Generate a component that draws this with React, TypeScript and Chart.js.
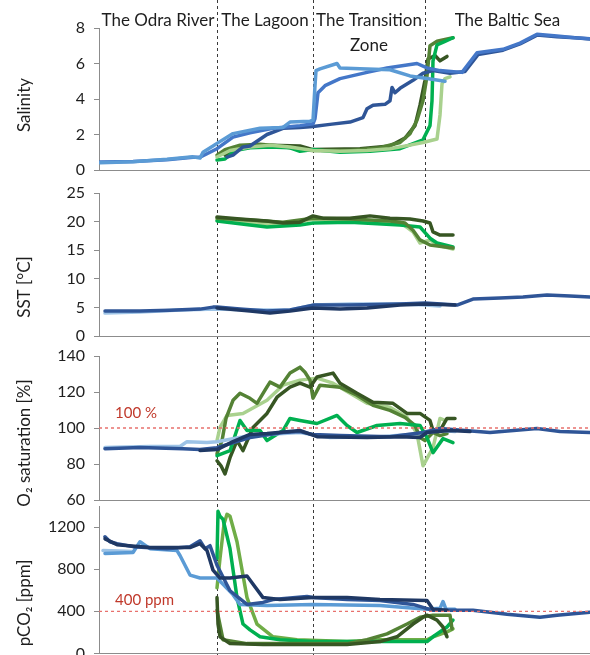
import React, { useEffect, useRef } from "react";
import { Chart, registerables } from "chart.js";

Chart.register(...registerables);

type Pt = [number, number];

const FONT = "Lato, 'Open Sans', sans-serif";
const X_MAX = 491;
const ZONE_BOUNDS = [118, 214, 326];
const ZONE_NAMES: string[][] = [["The Odra River"], ["The Lagoon"], ["The Transition", "Zone"], ["The Baltic Sea"]];

// ---------- tick labels ----------
const salTicks = [0, 2, 4, 6, 8];
const sstTicks = [0, 5, 10, 15, 20, 25];
const o2Ticks = [60, 80, 100, 120, 140];
const co2Ticks = [0, 400, 800, 1200];
const co2Max = 1400;

const o2Ref = 100;
const co2Ref = 400;

// ---------- Salinity ----------
const salLightBlue: Pt[] = [[1,0.41],[34,0.46],[68,0.6],[94,0.74],[101,0.67],[104,1.0],[114,1.35],[118,1.5],[134,2.05],[161,2.35],[184,2.4],[191,2.7],[211,2.75],[214,2.8],[216,4.75],[217,5.6],[221,5.7],[238,6.0],[241,5.75],[261,5.7],[291,5.65],[311,5.3],[328,5.15],[346,5.0]];
const salMedBlue: Pt[] = [[1,0.45],[34,0.48],[68,0.58],[94,0.72],[101,0.72],[118,1.2],[134,1.85],[151,2.1],[174,2.35],[201,2.5],[214,2.6],[216,2.9],[219,4.35],[226,4.75],[241,5.15],[268,5.5],[288,5.75],[318,6.0],[328,5.75],[341,5.6],[363,5.5],[378,6.6],[404,6.8],[421,7.15],[438,7.65],[458,7.55],[476,7.45],[491,7.4]];
const salDarkBlue: Pt[] = [[128,0.73],[134,0.84],[144,1.3],[151,1.35],[168,2.0],[184,2.35],[201,2.4],[214,2.45],[231,2.57],[251,2.7],[264,2.95],[268,3.45],[274,3.65],[286,3.7],[291,3.9],[293,4.65],[296,4.35],[301,4.6],[314,5.05],[324,5.45],[334,5.6],[351,5.45],[366,5.55],[379,6.5],[404,6.75],[421,7.1],[438,7.6],[458,7.5],[476,7.45],[491,7.38]];
const salLightGreen: Pt[] = [[118,0.73],[131,1.1],[151,1.3],[171,1.4],[191,1.3],[214,1.1],[241,1.05],[268,1.1],[291,1.2],[311,1.4],[324,1.55],[338,1.75],[341,3.1],[343,4.85],[346,5.15],[351,5.25]];
const salBrightGreen: Pt[] = [[118,0.56],[126,0.62],[136,1.1],[151,1.25],[171,1.3],[191,1.25],[201,1.05],[214,1.15],[241,1.0],[271,1.05],[301,1.2],[324,1.7],[331,2.5],[333,3.9],[334,6.15],[338,7.05],[346,7.25],[354,7.45]];
const salDarkGreen: Pt[] = [[118,0.84],[126,1.15],[141,1.4],[161,1.45],[181,1.35],[201,1.15],[214,1.1],[251,1.1],[281,1.25],[301,1.55],[311,2.05],[318,2.8],[324,3.9],[328,5.3],[331,7.0],[338,7.25],[354,7.45]];
const salOliveGreen: Pt[] = [[126,0.84],[141,1.25],[171,1.4],[201,1.35],[214,1.15],[261,1.2],[291,1.35],[306,1.8],[316,2.5],[321,3.65],[326,5.05],[329,6.25],[336,6.45],[341,6.15],[348,6.4]];

// ---------- SST ----------
const sstPaleBlue: Pt[] = [[6,4.0],[41,4.2],[81,4.55],[118,4.7],[151,4.55],[191,4.55],[214,5.4],[251,5.6],[301,5.6],[326,5.4],[341,5.25]];
const sstMedBlue: Pt[] = [[6,4.35],[41,4.35],[71,4.5],[101,4.7],[114,5.05],[118,5.05],[141,4.7],[168,4.35],[191,4.55],[214,5.4],[251,5.4],[301,5.6],[326,5.75],[358,5.4],[374,6.45],[401,6.65],[424,6.8],[448,7.15],[471,7.0],[491,6.8]];
const sstNavy: Pt[] = [[118,4.9],[151,4.35],[171,4.0],[191,4.35],[214,4.9],[241,4.7],[268,4.9],[301,5.4],[326,5.6],[356,5.4]];
const sstDarkGreen: Pt[] = [[118,20.8],[141,20.45],[168,20.1],[184,19.75],[201,19.9],[214,21.0],[224,20.6],[251,20.6],[271,21.0],[291,20.6],[311,20.45],[324,20.1],[331,19.75],[334,18.2],[341,17.65],[354,17.65]];
const sstOliveGreen: Pt[] = [[118,20.6],[151,20.3],[184,19.9],[214,20.6],[251,20.45],[291,20.1],[306,19.75],[314,18.5],[321,16.8],[331,15.9],[354,15.4]];
const sstLightGreen: Pt[] = [[118,20.3],[151,19.75],[184,19.4],[214,20.45],[251,20.3],[301,19.9],[314,18.2],[321,16.25],[331,16.8],[341,15.75],[354,15.2]];
const sstBrightGreen: Pt[] = [[118,20.1],[151,19.4],[168,19.05],[201,19.4],[214,19.75],[251,19.9],[301,19.4],[321,19.05],[331,17.1],[338,16.25],[354,15.55]];

// ---------- O2 saturation ----------
const o2PaleBlue: Pt[] = [[6,89.1],[51,89.7],[81,89.7],[88,92.4],[108,91.9],[118,92.4],[151,95.8],[201,97.5],[231,94.7],[281,95.2],[324,96.9],[341,98.6],[356,98.0]];
const o2MedBlue: Pt[] = [[6,88.5],[41,89.1],[84,88.5],[101,88.0],[118,89.1],[151,94.7],[184,97.5],[201,98.0],[214,96.4],[241,95.8],[291,95.2],[324,97.5],[341,99.7],[391,97.5],[438,99.7],[461,98.0],[491,97.5]];
const o2Navy: Pt[] = [[101,87.5],[118,88.0],[134,92.4],[151,96.4],[168,96.9],[201,98.6],[218,95.2],[268,94.7],[301,95.2],[321,94.7],[328,97.5],[351,98.6],[371,98.0]];
const o2OliveGreen: Pt[] = [[118,85.7],[123,93],[127,105.3],[134,115.4],[141,119.3],[151,116.5],[158,113.7],[166,121],[171,125.5],[181,122.7],[191,130.5],[201,133.8],[206,131],[211,126.6],[214,116.5],[221,123.8],[241,122.7],[258,118.2],[274,112.6],[291,109.8],[306,105.9],[316,101.4],[321,94.7],[326,93],[334,97.5],[341,95.8],[348,96.9]];
const o2DarkGreen: Pt[] = [[118,81.8],[122,79],[126,74.5],[131,83.5],[138,93],[144,87.4],[154,100.3],[168,108.1],[178,117.1],[191,122.7],[201,124.9],[211,122.7],[218,128.3],[234,130.5],[241,124.9],[258,119.3],[274,114.3],[294,113.7],[308,108.1],[321,108.1],[331,104.2],[334,98.6],[341,98.6],[348,105.3],[356,105.3]];
const o2LightGreen: Pt[] = [[118,93],[121,100.3],[128,107],[144,108.1],[168,115.4],[184,123.8],[201,126.6],[218,127.7],[234,124.9],[251,119.3],[268,113.7],[291,111.5],[308,105.9],[318,96.9],[324,79],[334,89.1],[341,105.3],[346,104.2]];
const o2BrightGreen: Pt[] = [[118,84.6],[131,87.4],[141,104.2],[148,98.6],[161,98.6],[168,93],[184,98.6],[191,105.3],[201,104.2],[218,102.5],[238,107],[248,101.4],[258,97.5],[278,101.4],[301,102.5],[321,101.4],[328,94.7],[334,86.3],[344,94.1],[354,91.9]];

// ---------- pCO2 ----------
const co2BlueA: Pt[] = [[6,1107],[11,1060],[18,1042],[34,1014],[68,995],[91,1014],[101,1070],[106,995],[111,1023],[118,837],[131,595],[148,465],[164,484],[174,512],[208,540],[214,530],[248,512],[281,502],[314,465],[334,409],[374,409],[408,372],[441,344],[458,363],[491,391]];
const co2Navy: Pt[] = [[6,1088],[18,1033],[51,1005],[91,1005],[101,1042],[108,977],[114,791],[121,716],[131,716],[148,735],[164,530],[181,512],[214,530],[248,530],[281,512],[328,502],[334,419],[348,409]];
const co2LightBlue: Pt[] = [[6,949],[34,958],[41,1060],[51,995],[78,977],[81,930],[91,744],[101,716],[118,716],[134,558],[141,465],[168,456],[214,465],[281,456],[328,419],[341,428],[344,493],[347,419],[356,419]];
const co2PaleBlue: Pt[] = [[4,977],[34,967]];
const co2BrightGreen: Pt[] = [[118,902],[119,1349],[121,1302],[124,1274],[131,995],[138,530],[144,279],[151,223],[161,158],[181,130],[214,112],[281,112],[328,112],[334,158],[348,251],[354,316]];
const co2YellowGreen: Pt[] = [[118,623],[121,902],[125,1228],[128,1321],[131,1302],[138,1060],[148,530],[158,279],[174,158],[198,130],[248,112],[281,130],[328,130],[334,158],[348,205],[354,233]];
const co2DarkGreen: Pt[] = [[118,530],[119,279],[121,158],[131,93],[164,84],[248,84],[281,112],[298,158],[314,279],[324,344],[328,363],[338,316],[344,251],[348,158]];
const co2OliveGreen: Pt[] = [[118,409],[124,130],[148,93],[248,93],[268,130],[288,186],[308,279],[321,344],[334,363],[351,363],[353,233]];

// ---------- colours ----------
const C = {
  lightBlue: "#5b9bd5",
  medBlue: "#4477c8",
  darkBlue: "#2f5597",
  navy: "#1f3864",
  paleBlue: "#9dc3e6",
  lightGreen: "#a9d18e",
  brightGreen: "#00b050",
  olive: "#548235",
  dark: "#375623",
  yellowGreen: "#70ad47",
  ref: "#e8716d",
  refText: "#c0392b",
};

const W = 590;
const H = 672;

type Series = { pts: Pt[]; color: string };
type Panel = {
  title: string;
  ticks: number[];
  min: number;
  max: number;
  top: number;
  bottom: number;
  titleY: number;
  ref?: { value: number; label: string; dy: number };
  series: Series[];
  first?: boolean;
};

const panels: Panel[] = [
  {
    title: "Salinity", ticks: salTicks, min: 0, max: 8, top: 28, bottom: 170, titleY: 105, first: true,
    series: [
      { pts: salLightBlue, color: C.lightBlue },
      { pts: salMedBlue, color: C.medBlue },
      { pts: salDarkBlue, color: C.darkBlue },
      { pts: salLightGreen, color: C.lightGreen },
      { pts: salBrightGreen, color: C.brightGreen },
      { pts: salDarkGreen, color: C.olive },
      { pts: salOliveGreen, color: C.dark },
    ],
  },
  {
    title: "SST [°C]", ticks: sstTicks, min: 0, max: 25, top: 193, bottom: 336, titleY: 287,
    series: [
      { pts: sstNavy, color: C.navy },
      { pts: sstMedBlue, color: C.darkBlue },
      { pts: sstPaleBlue, color: C.paleBlue },
      { pts: sstDarkGreen, color: C.dark },
      { pts: sstOliveGreen, color: C.olive },
      { pts: sstBrightGreen, color: C.brightGreen },
      { pts: sstLightGreen, color: C.lightGreen },
    ],
  },
  {
    title: "O₂ saturation [%]", ticks: o2Ticks, min: 60, max: 140, top: 356, bottom: 500, titleY: 443,
    ref: { value: o2Ref, label: "100 %", dy: -15 },
    series: [
      { pts: o2Navy, color: C.navy },
      { pts: o2MedBlue, color: C.darkBlue },
      { pts: o2PaleBlue, color: C.paleBlue },
      { pts: o2BrightGreen, color: C.brightGreen },
      { pts: o2DarkGreen, color: C.dark },
      { pts: o2OliveGreen, color: C.olive },
      { pts: o2LightGreen, color: C.lightGreen },
    ],
  },
  {
    title: "pCO₂ [ppm]", ticks: co2Ticks, min: 0, max: co2Max, top: 506, bottom: 657, titleY: 603,
    ref: { value: co2Ref, label: "400 ppm", dy: -11 },
    series: [
      { pts: co2Navy, color: C.navy },
      { pts: co2BlueA, color: C.darkBlue },
      { pts: co2LightBlue, color: C.lightBlue },
      { pts: co2PaleBlue, color: C.paleBlue },
      { pts: co2DarkGreen, color: C.dark },
      { pts: co2OliveGreen, color: C.olive },
      { pts: co2BrightGreen, color: C.brightGreen },
      { pts: co2YellowGreen, color: C.yellowGreen },
    ],
  },
];

function makeChart(canvas: HTMLCanvasElement, p: Panel): Chart {
  const datasets: any[] = [];
  if (p.ref) {
    datasets.push({
      data: [{ x: 0, y: p.ref.value }, { x: X_MAX, y: p.ref.value }],
      borderColor: C.ref, borderWidth: 1.3, borderDash: [3, 3], pointRadius: 0,
    });
  }
  for (const s of p.series) {
    datasets.push({
      data: s.pts.map(([x, y]) => ({ x, y })),
      borderColor: s.color, borderWidth: 3.5, pointRadius: 0, tension: 0,
      borderJoinStyle: "round", borderCapStyle: "round",
    });
  }

  const decor = {
    id: "decor" + p.title,
    beforeDatasetsDraw(chart: any) {
      if (!p.first) return;
      const ctx = chart.ctx;
      const xs = chart.scales.x;
      ctx.save();
      ctx.strokeStyle = "#3a3a3a";
      ctx.lineWidth = 1;
      ctx.setLineDash([3, 3]);
      for (const b of ZONE_BOUNDS) {
        const px = Math.round(xs.getPixelForValue(b)) + 0.5;
        ctx.beginPath();
        ctx.moveTo(px, 0);
        ctx.lineTo(px, H);
        ctx.stroke();
      }
      ctx.restore();
    },
    afterDraw(chart: any) {
      const ctx = chart.ctx;
      const xs = chart.scales.x;
      const ys = chart.scales.y;
      ctx.save();
      ctx.fillStyle = "#1e1e1e";
      ctx.font = `17px ${FONT}`;
      ctx.textAlign = "center";
      ctx.textBaseline = "middle";
      ctx.translate(25, p.titleY);
      ctx.rotate(-Math.PI / 2);
      ctx.fillText(p.title, 0, 0);
      ctx.restore();
      if (p.ref) {
        ctx.save();
        ctx.fillStyle = C.refText;
        ctx.font = `15px ${FONT}`;
        ctx.textAlign = "left";
        ctx.textBaseline = "middle";
        ctx.fillText(p.ref.label, 115, ys.getPixelForValue(p.ref.value) + p.ref.dy);
        ctx.restore();
      }
      if (p.first) {
        const edges = [0, ...ZONE_BOUNDS, X_MAX];
        ctx.save();
        ctx.fillStyle = "#1e1e1e";
        ctx.font = `17px ${FONT}`;
        ctx.textAlign = "center";
        ctx.textBaseline = "middle";
        ZONE_NAMES.forEach((lines, i) => {
          const cx = (xs.getPixelForValue(edges[i]) + xs.getPixelForValue(edges[i + 1])) / 2;
          lines.forEach((t, j) => ctx.fillText(t, cx, 21 + j * 25));
        });
        ctx.restore();
      }
    },
  };

  return new Chart(canvas, {
    type: "line",
    data: { datasets },
    options: {
      responsive: false,
      devicePixelRatio: 1,
      animation: false,
      events: [],
      layout: { padding: { top: p.top, bottom: H - p.bottom, left: 0, right: 0 } },
      plugins: { legend: { display: false }, tooltip: { enabled: false } },
      scales: {
        x: {
          type: "linear", min: 0, max: X_MAX,
          ticks: { display: false },
          grid: { display: false, drawTicks: false },
          border: { display: true, color: "#8c8c8c", width: 1 },
        },
        y: {
          type: "linear", min: p.min, max: p.max,
          afterBuildTicks: (s: any) => { s.ticks = p.ticks.map((v) => ({ value: v })); },
          afterFit: (s: any) => { s.width = 99; },
          ticks: {
            font: { family: FONT, size: 16 }, color: "#1e1e1e", padding: 9,
            callback: (v: any) => String(v),
          },
          grid: { display: true, drawOnChartArea: false, drawTicks: true, tickLength: 5, color: "#8c8c8c" },
          border: { display: true, color: "#8c8c8c", width: 1 },
        },
      },
    },
    plugins: [decor],
  } as any);
}

export default function App() {
  const refs = [useRef<HTMLCanvasElement>(null), useRef<HTMLCanvasElement>(null), useRef<HTMLCanvasElement>(null), useRef<HTMLCanvasElement>(null)];
  useEffect(() => {
    const charts = panels.map((p, i) => makeChart(refs[i].current!, p));
    return () => charts.forEach((c) => c.destroy());
  }, []);
  return (
    <div style={{ position: "absolute", left: 0, top: 0, width: W, height: 655, overflow: "hidden", background: "#fff" }}>
      {panels.map((p, i) => (
        <canvas key={i} ref={refs[i]} width={W} height={H} style={{ position: "absolute", left: 0, top: 0, width: W, height: H }} />
      ))}
    </div>
  );
}
